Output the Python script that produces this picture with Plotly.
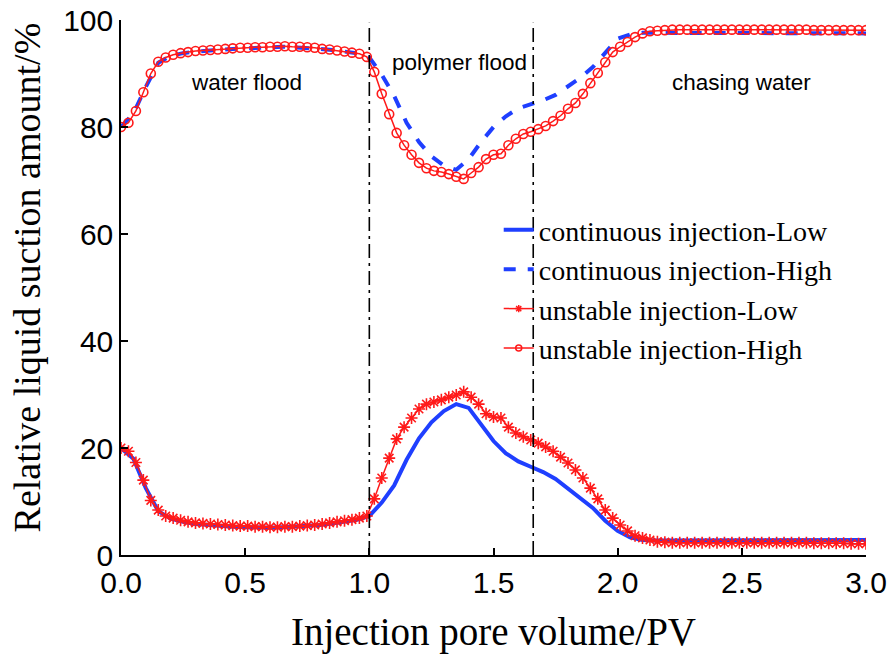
import plotly.graph_objects as go

# stage boundaries (PV)
stage_bounds = [1.0, 1.66]

# unstable injection: sampled every 0.03 PV
x_unstable = [round(0.03 * i, 2) for i in range(101)]

unstable_high = [
    80.0, 80.8, 83.0, 86.5, 90.0, 92.2, 93.0, 93.5, 93.8, 94.0,
    94.2, 94.3, 94.4, 94.5, 94.6, 94.7, 94.8, 94.8, 94.9, 94.9,
    95.0, 95.0, 95.1, 95.0, 95.0, 94.9, 94.8, 94.6, 94.5, 94.3,
    94.1, 93.9, 93.7, 93.1, 90.3, 86.2, 82.4, 78.9, 76.6, 74.8,
    73.3, 72.3, 71.8, 71.6, 71.2, 70.7, 70.3, 71.4, 72.5, 74.0,
    74.8, 75.0, 76.6, 77.8, 78.7, 79.1, 79.6, 80.2, 81.1, 82.1,
    83.4, 84.5, 86.2, 88.2, 90.1, 92.1, 94.0, 95.0, 95.9, 96.8,
    97.5, 97.9, 98.0, 98.1, 98.2, 98.2, 98.2, 98.2, 98.2, 98.2,
    98.2, 98.2, 98.2, 98.2, 98.2, 98.2, 98.2, 98.2, 98.2, 98.2,
    98.2, 98.2, 98.2, 98.1, 98.1, 98.1, 98.1, 98.1, 98.1, 98.1,
    98.1,
]

unstable_low = [
    20.0, 19.4, 17.3, 14.0, 10.2, 8.4, 7.3, 6.9, 6.5, 6.2,
    6.0, 5.9, 5.8, 5.7, 5.6, 5.5, 5.4, 5.4, 5.3, 5.3,
    5.2, 5.2, 5.3, 5.3, 5.4, 5.5, 5.6, 5.8, 6.0, 6.2,
    6.4, 6.6, 6.9, 7.3, 10.5, 14.4, 18.1, 21.7, 23.9, 25.6,
    27.3, 28.2, 28.6, 29.0, 29.5, 29.9, 30.5, 29.5, 28.2, 26.4,
    25.8, 25.6, 23.9, 22.8, 22.1, 21.5, 20.9, 20.2, 19.4, 18.3,
    17.2, 15.9, 14.4, 12.5, 10.5, 8.4, 6.9, 5.6, 4.5, 3.6,
    3.2, 2.8, 2.5, 2.4, 2.3, 2.3, 2.3, 2.3, 2.3, 2.3,
    2.3, 2.3, 2.3, 2.3, 2.3, 2.3, 2.3, 2.3, 2.3, 2.3,
    2.3, 2.3, 2.3, 2.2, 2.2, 2.2, 2.2, 2.2, 2.1, 2.1,
    2.1,
]

# continuous injection: sampled every 0.05 PV
x_continuous = [round(0.05 * i, 2) for i in range(61)]

continuous_high = [
    80.0, 82.5, 87.5, 92.0, 93.3, 93.8, 94.1, 94.3, 94.5, 94.6,
    94.7, 94.8, 94.9, 95.0, 94.9, 94.8, 94.6, 94.4, 94.1, 93.8,
    93.0, 89.8, 85.8, 80.8, 77.2, 74.5, 72.8, 72.0, 74.0, 77.2,
    80.0, 82.0, 83.5, 84.2, 85.0, 86.0, 87.6, 89.2, 91.2, 93.8,
    96.5, 97.3, 97.6, 97.6, 97.6, 97.6, 97.6, 97.6, 97.6, 97.6,
    97.6, 97.6, 97.6, 97.6, 97.5, 97.5, 97.5, 97.5, 97.5, 97.5,
    97.5,
]

continuous_low = [
    20.0, 18.0, 12.5, 8.2, 6.8, 6.2, 5.8, 5.6, 5.4, 5.3,
    5.2, 5.1, 5.1, 5.2, 5.3, 5.4, 5.6, 5.9, 6.2, 6.6,
    7.3, 9.8, 13.0, 17.8, 21.8, 24.8, 26.9, 28.2, 27.5, 24.5,
    21.3, 19.0, 17.5, 16.5, 15.5, 14.2, 12.4, 10.5, 8.8, 6.4,
    4.5, 3.3, 2.8, 2.7, 2.7, 2.7, 2.7, 2.7, 2.7, 2.7,
    2.7, 2.7, 2.7, 2.7, 2.8, 2.8, 2.8, 2.8, 2.8, 2.8,
    2.8,
]

stage_labels = ["water flood", "polymer flood", "chasing water"]
stage_label_x = [0.507, 1.365, 2.497]
stage_label_y = [88.4, 92.1, 88.4]

BLUE = "#1f3fff"
RED = "#ff1a1a"
SANS = "Liberation Sans, Arial, sans-serif"
SERIF = "Liberation Serif, Times New Roman, serif"

fig = go.Figure()

# curves (legend drawn from separate dummy traces below)
fig.add_trace(go.Scatter(x=x_continuous, y=continuous_low, mode="lines",
                         line=dict(color=BLUE, width=4), showlegend=False))
fig.add_trace(go.Scatter(x=x_continuous, y=continuous_high, mode="lines",
                         line=dict(color=BLUE, width=4, dash="dash"), showlegend=False))
fig.add_trace(go.Scatter(x=x_unstable, y=unstable_low, mode="lines+markers",
                         line=dict(color=RED, width=1.5),
                         marker=dict(symbol="asterisk-open", size=10,
                                     line=dict(color=RED, width=1.6)),
                         showlegend=False))
fig.add_trace(go.Scatter(x=x_unstable, y=unstable_high, mode="lines+markers",
                         line=dict(color=RED, width=1.5),
                         marker=dict(symbol="circle-open", size=9, color=RED,
                                     line=dict(color=RED, width=1.6)),
                         showlegend=False))

# legend entries
fig.add_trace(go.Scatter(x=[None], y=[None], mode="lines", name="continuous injection-Low",
                         line=dict(color=BLUE, width=4)))
fig.add_trace(go.Scatter(x=[None], y=[None], mode="lines", name="continuous injection-High",
                         line=dict(color=BLUE, width=4, dash="dash")))
fig.add_trace(go.Scatter(x=[None], y=[None], mode="lines+markers", name="unstable injection-Low",
                         line=dict(color=RED, width=1.5),
                         marker=dict(symbol="asterisk-open", size=6,
                                     line=dict(color=RED, width=1.5))))
fig.add_trace(go.Scatter(x=[None], y=[None], mode="lines+markers", name="unstable injection-High",
                         line=dict(color=RED, width=1.5),
                         marker=dict(symbol="circle-open", size=6, color=RED,
                                     line=dict(color=RED, width=1.5))))

# stage boundaries
for xb in stage_bounds:
    fig.add_shape(type="line", x0=xb, x1=xb, y0=0, y1=99.5, xref="x", yref="y",
                  line=dict(color="black", width=1.6, dash="14px,5px,3px,5px"))

for txt, tx, ty in zip(stage_labels, stage_label_x, stage_label_y):
    fig.add_annotation(x=tx, y=ty, text=txt, showarrow=False,
                       font=dict(family=SANS, size=22.5, color="black"))

# y title sits further left than plotly's axis title allows, so place it by hand
fig.add_annotation(x=-0.126, y=0.519, xref="paper", yref="paper",
                   xanchor="center", yanchor="middle", textangle=-90, showarrow=False,
                   text="Relative liquid suction amount/%",
                   font=dict(family=SERIF, size=38, color="black"))

fig.update_layout(
    width=888, height=658,
    paper_bgcolor="white", plot_bgcolor="white",
    margin=dict(l=121, r=22, t=20, b=103),
    legend=dict(x=0.507, y=0.654, xanchor="left", yanchor="top",
                bgcolor="rgba(0,0,0,0)", font=dict(family=SERIF, size=28, color="black"),
                tracegroupgap=0),
    showlegend=True,
)

fig.update_xaxes(
    range=[0, 3.0], tickvals=[0, 0.5, 1.0, 1.5, 2.0, 2.5, 3.0], tickformat=".1f",
    ticks="inside", ticklen=7, tickwidth=1.5, tickcolor="black",
    showline=True, linecolor="black", linewidth=1.5, showgrid=False, zeroline=False,
    tickfont=dict(family=SANS, size=30, color="black"), ticklabeloverflow="allow",
    title=dict(text="Injection pore volume/PV", font=dict(family=SERIF, size=39, color="black"),
               standoff=20),
    automargin=False,
)
fig.update_yaxes(
    range=[0, 100], tickvals=[0, 20, 40, 60, 80, 100],
    ticks="inside", ticklen=7, tickwidth=1.5, tickcolor="black",
    showline=True, linecolor="black", linewidth=1.5, showgrid=False, zeroline=False,
    tickfont=dict(family=SANS, size=30, color="black"), ticklabeloverflow="allow",
    automargin=False,
)

# drop the default 8px page margin so the 888x658 figure fills the window
fig.write_html("out.html", config={"displayModeBar": False},
               post_script="document.body.style.margin = '0';")
